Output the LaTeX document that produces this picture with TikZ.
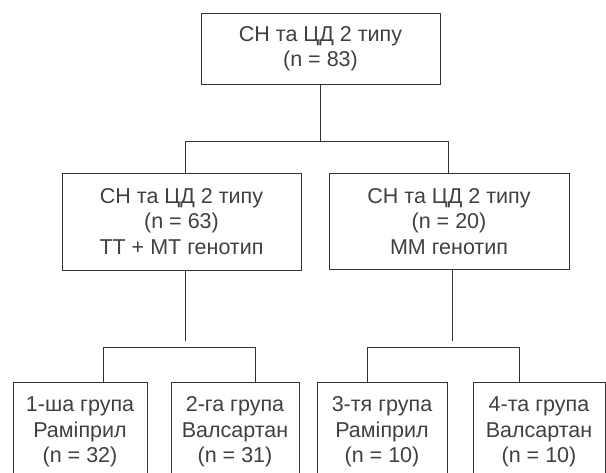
\documentclass[tikz,border=0pt]{standalone}
\usepackage{fontspec}
\setmainfont{Liberation Sans}
\begin{document}
\begin{tikzpicture}[x=1pt,y=1pt,
  box/.style={draw=black!80, line width=0.9pt, rectangle, inner sep=0pt, align=center,
    text=black!75, font=\fontsize{21.5}{25.5}\selectfont},
  conn/.style={draw=black!80, line width=0.9pt}]
\useasboundingbox (0,0) rectangle (606,473);
\clip (0,0) rectangle (606,473);
\node[box, minimum width=239pt, minimum height=71pt] (top) at (320.5,424.5) {СН та ЦД 2 типу\\(n = 83)};
\node[box, minimum width=239pt, minimum height=97pt] (m1) at (181.5,251.5) {СН та ЦД 2 типу\\(n = 63)\\ТТ + МТ генотип};
\node[box, minimum width=240pt, minimum height=96pt] (m2) at (449,251.5) {СН та ЦД 2 типу\\(n = 20)\\ММ генотип};
\node[box, minimum width=134pt, minimum height=100pt] (g1) at (80,41) {1-ша група\\Раміприл\\(n = 32)};
\node[box, minimum width=128pt, minimum height=100pt] (g2) at (235,41) {2-га група\\Валсартан\\(n = 31)};
\node[box, minimum width=130pt, minimum height=100pt] (g3) at (382,41) {3-тя група\\Раміприл\\(n = 10)};
\node[box, minimum width=132pt, minimum height=100pt] (g4) at (539,41) {4-та група\\Валсартан\\(n = 10)};
% top split
\coordinate (b1l) at (185,332);
\coordinate (b1r) at (448,332);
\draw[conn] (top.south) -- (top.south |- b1l);
\draw[conn] (m1.north -| b1l) -- (b1l) -- (b1r) -- (m2.north -| b1r);
% left split
\coordinate (s1) at (185,132);
\coordinate (b2l) at (103,126);
\coordinate (b2r) at (255,126);
\draw[conn] (m1.south -| s1) -- (s1);
\draw[conn] (g1.north -| b2l) -- (b2l) -- (b2r) -- (g2.north -| b2r);
% right split
\coordinate (s2) at (452,132);
\coordinate (b3l) at (367,126);
\coordinate (b3r) at (519,126);
\draw[conn] (m2.south -| s2) -- (s2);
\draw[conn] (g3.north -| b3l) -- (b3l) -- (b3r) -- (g4.north -| b3r);
\end{tikzpicture}
\end{document}
